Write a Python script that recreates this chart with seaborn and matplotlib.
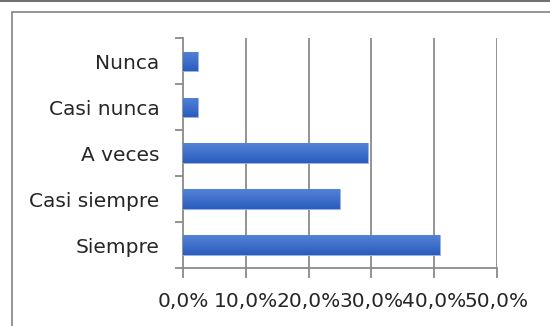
import matplotlib
matplotlib.use("Agg")
import matplotlib.pyplot as plt
import numpy as np
import pandas as pd
import seaborn as sns
from matplotlib.patches import Rectangle
from matplotlib.lines import Line2D

# Survey responses (share of answers, %)
categories = ["Nunca", "Casi nunca", "A veces", "Casi siempre", "Siempre"]
shares = [2.27, 2.27, 29.5, 25.0, 40.9]
x_ticks = [0, 10, 20, 30, 40, 50]
x_tick_labels = ["0,0%", "10,0%", "20,0%", "30,0%", "40,0%", "50,0%"]

df = pd.DataFrame({"categoria": categories, "porcentaje": shares})

sns.set_theme(style="white")
plt.rcParams["font.family"] = ["DejaVu Sans"]

fig = plt.figure(figsize=(5.5, 3.26), dpi=100)
ax = fig.add_axes([0.3333, 0.178, 0.903 - 0.3333, 0.8825 - 0.178])

sns.barplot(data=df, x="porcentaje", y="categoria", order=categories,
            color="#3566C4", width=0.42, saturation=1, ax=ax,
            edgecolor="#9bb6e6", linewidth=0.6, zorder=3)

# vertical gradient on each bar (lighter top, darker bottom)
grad = np.linspace(0, 1, 64).reshape(-1, 1)
cmap = matplotlib.colors.LinearSegmentedColormap.from_list(
    "bar", ["#5383d6", "#2b5cbe"])
for p in ax.patches:
    x0, y0 = p.get_x(), p.get_y()
    w, h = p.get_width(), p.get_height()
    im = ax.imshow(grad, cmap=cmap, aspect="auto",
                   extent=[x0, x0 + w, y0 + h, y0], zorder=3.5,
                   interpolation="bilinear")
    im.set_clip_path(p)

ax.set_xlim(0, 50)
ax.set_ylim(len(categories) - 0.5, -0.5)
ax.set_xticks(x_ticks)
ax.set_xticklabels(x_tick_labels)
ax.set_yticks(np.arange(len(categories)))
ax.set_yticklabels(categories)
ax.set_xlabel("")
ax.set_ylabel("")

# gridlines
for xv in x_ticks[1:]:
    ax.axvline(xv, color="#8a8a8a", lw=1.3, zorder=1)

for side in ["top", "right"]:
    ax.spines[side].set_visible(False)
for side in ["left", "bottom"]:
    ax.spines[side].set_color("#8a8a8a")
    ax.spines[side].set_linewidth(1.3)

# y ticks at category boundaries
ax.tick_params(axis="y", which="major", length=0, pad=17,
               labelsize=14.5, labelcolor="#262626")
ax.set_yticks(np.arange(-0.5, len(categories), 1), minor=True)
ax.tick_params(axis="y", which="minor", length=6, width=1.3,
               color="#8a8a8a", direction="out", left=True)
ax.tick_params(axis="x", which="major", length=7, width=1.3,
               color="#8a8a8a", direction="out", bottom=True, pad=10,
               labelsize=14.5, labelcolor="#262626")
for lbl in ax.get_yticklabels():
    lbl.set_horizontalalignment("right")

# chart frame
W, H = 550, 326
fig.patches.append(Rectangle((12 / W, -0.1), 1.2, (H - 12) / H + 0.1,
                             transform=fig.transFigure, fill=False,
                             edgecolor="#8c8c8c", linewidth=1.3))
fig.lines.append(Line2D([0, 1], [1 - 0.6 / H, 1 - 0.6 / H],
                        transform=fig.transFigure, color="#555555", lw=1.2))

fig.savefig("out.png", dpi=100, facecolor="white")
